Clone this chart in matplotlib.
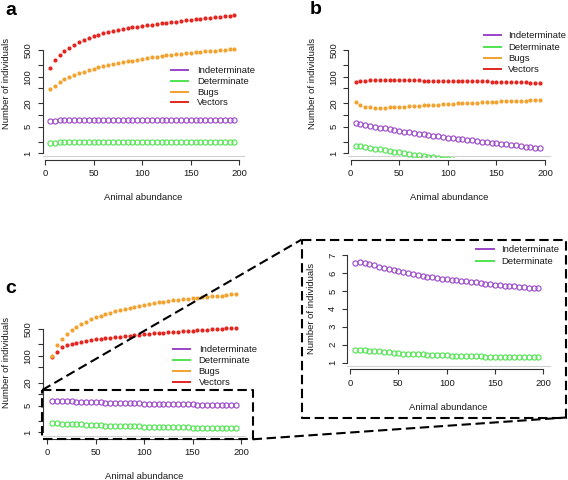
import matplotlib
matplotlib.use("Agg")
import matplotlib.pyplot as plt
from matplotlib.lines import Line2D
from matplotlib.ticker import NullLocator

plt.rcParams['font.family'] = ['Liberation Sans', 'DejaVu Sans']

W, H = 568, 480

# animal abundance (x)
abundance = list(range(5, 200, 5))

# panel a
indet_a = [6.9, 7.1, 7.2, 7.2, 7.2, 7.2, 7.2, 7.2, 7.2, 7.2, 7.2, 7.2, 7.2,
           7.2, 7.2, 7.2, 7.2, 7.2, 7.2, 7.2, 7.2, 7.2, 7.2, 7.2, 7.2, 7.2,
           7.2, 7.2, 7.2, 7.2, 7.2, 7.2, 7.2, 7.2, 7.2, 7.2, 7.2, 7.2, 7.2]
det_a = [1.85, 1.9, 1.93, 1.93, 1.93, 1.93, 1.93, 1.93, 1.93, 1.93, 1.93,
         1.93, 1.93, 1.93, 1.93, 1.93, 1.93, 1.93, 1.93, 1.93, 1.93, 1.93,
         1.93, 1.93, 1.93, 1.93, 1.93, 1.93, 1.93, 1.93, 1.93, 1.93, 1.93,
         1.93, 1.93, 1.93, 1.93, 1.93, 1.93]
bugs_a = [47, 58, 71, 85, 96, 110, 122, 135, 149, 162, 175, 188, 200, 212,
          224, 237, 250, 263, 276, 289, 303, 318, 333, 348, 363, 375, 388,
          400, 413, 426, 436, 447, 457, 468, 478, 492, 506, 521, 537]
vect_a = [166, 269, 370, 468, 574, 674, 794, 910, 1030, 1150, 1250, 1350,
          1440, 1540, 1640, 1740, 1840, 1940, 2040, 2130, 2210, 2300, 2390,
          2470, 2560, 2660, 2760, 2860, 2960, 3060, 3170, 3280, 3390, 3500,
          3620, 3730, 3840, 3960, 4080]

# panel b
indet_b = [6.07, 5.76, 5.47, 5.20, 4.94, 4.69, 4.46, 4.23, 4.02, 3.82, 3.67,
           3.53, 3.39, 3.25, 3.13, 3.00, 2.89, 2.77, 2.66, 2.56, 2.47, 2.39,
           2.31, 2.24, 2.16, 2.09, 2.02, 1.95, 1.89, 1.82, 1.76, 1.71, 1.65,
           1.60, 1.54, 1.49, 1.44, 1.40, 1.35]
det_b = [1.58, 1.51, 1.44, 1.38, 1.32, 1.26, 1.20, 1.15, 1.10, 1.05, 1.00,
         0.96, 0.92, 0.88, 0.84, 0.81, 0.78, 0.75, 0.72, 0.69, 0.66, 0.64,
         0.61, 0.59, 0.57, 0.55, 0.53, 0.51, 0.49, 0.47, 0.45, 0.44, 0.42,
         0.41, 0.39, 0.38, 0.37, 0.35, 0.34]
bugs_b = [22.3, 17.9, 16.5, 15.9, 15.5, 15.5, 15.6, 15.8, 16.0, 16.2, 16.5,
          16.8, 17.1, 17.5, 17.9, 18.2, 18.5, 18.8, 19.1, 19.4, 19.7, 20.0,
          20.3, 20.6, 20.9, 21.2, 21.5, 21.8, 22.0, 22.3, 22.6, 22.9, 23.1,
          23.4, 23.7, 23.9, 24.1, 24.4, 24.6]
vect_b = [74, 77, 79, 80, 80.5, 81, 81, 81, 81, 81, 80.5, 80.5, 80, 80, 79.5,
          79.5, 79, 79, 78.5, 78, 78, 77.5, 77, 77, 76.5, 76, 75.5, 75, 74.5,
          74, 73.5, 73, 72.5, 72, 71.5, 71, 70.5, 70, 69.5]

# panel c (and zoomed inset)
indet_c = [6.57, 6.61, 6.55, 6.50, 6.43, 6.35, 6.28, 6.22, 6.15, 6.09, 6.03,
           5.98, 5.93, 5.88, 5.83, 5.79, 5.75, 5.72, 5.68, 5.65, 5.62, 5.59,
           5.56, 5.53, 5.50, 5.47, 5.44, 5.41, 5.38, 5.35, 5.33, 5.30, 5.28,
           5.25, 5.23, 5.21, 5.19, 5.16, 5.14]
det_c = [1.71, 1.71, 1.69, 1.67, 1.65, 1.63, 1.61, 1.58, 1.55, 1.52, 1.51,
         1.50, 1.49, 1.47, 1.46, 1.45, 1.44, 1.43, 1.42, 1.41, 1.40, 1.39,
         1.38, 1.37, 1.36, 1.36, 1.35, 1.34, 1.34, 1.33, 1.33, 1.32, 1.32,
         1.31, 1.31, 1.31, 1.30, 1.30, 1.30]
bugs_c = [100, 194, 277, 367, 475, 582, 685, 785, 900, 1020, 1130, 1240, 1350,
          1470, 1590, 1700, 1810, 1930, 2040, 2150, 2260, 2380, 2500, 2610,
          2730, 2830, 2930, 3020, 3120, 3220, 3310, 3410, 3500, 3600, 3700,
          3810, 3930, 4050, 4170]
vect_c = [95, 129, 168, 190, 205, 221, 233, 245, 259, 272, 281, 290, 299, 309,
          318, 328, 338, 347, 357, 367, 376, 386, 395, 405, 414, 423, 432, 441,
          450, 458, 467, 477, 486, 496, 505, 516, 526, 537, 548]

labels = ['Indeterminate', 'Determinate', 'Bugs', 'Vectors']
colors = ['#9b45c9', '#4ee44e', '#f2a22e', '#e3261f']

log_ticks = [1, 2, 5, 10, 20, 50, 100, 200, 500]
log_ticklabels = ['1', '', '5', '', '20', '', '100', '', '500']
lin_ticks = [1, 2, 3, 4, 5, 6, 7]
x_ticks = [0, 50, 100, 150, 200]

FS = 6.8
TXT = '#1a1a1a'


def fig_box(left, top, right, bottom):
    return [left / W, 1 - bottom / H, (right - left) / W, (bottom - top) / H]


def fx(x):
    return x / W


def fy(y):
    return 1 - y / H


def make_axes(box, xlim, ylim, log=True):
    ax = fig.add_axes(fig_box(*box))
    if log:
        ax.set_yscale('log')
        ax.set_yticks(log_ticks)
        ax.set_yticklabels(log_ticklabels)
        ax.spines['left'].set_bounds(1, 500)
    else:
        ax.set_yticks(lin_ticks)
        ax.set_yticklabels([str(t) for t in lin_ticks])
        ax.spines['left'].set_bounds(1, 7)
    ax.yaxis.set_minor_locator(NullLocator())
    ax.set_xticks(x_ticks)
    ax.set_xlim(xlim)
    ax.set_ylim(ylim)
    ax.patch.set_visible(False)
    for s in ['top', 'right']:
        ax.spines[s].set_visible(False)
    ax.spines['bottom'].set_position(('outward', 2.2))
    ax.spines['bottom'].set_bounds(0, 200)
    for s in ['bottom', 'left']:
        ax.spines[s].set_color('#333333')
        ax.spines[s].set_linewidth(0.8)
    ax.tick_params(direction='out', length=3.6, width=0.8, color='#333333',
                   labelsize=FS, labelcolor=TXT)
    ax.tick_params(axis='x', pad=3.3)
    ax.tick_params(axis='y', pad=3.6, labelrotation=90)
    for lab in ax.get_yticklabels():
        lab.set_va('center')
    ax.axhline(ylim[0], color='#d2d2d2', lw=0.8, clip_on=False, zorder=0)
    ax.set_xlabel('Animal abundance', fontsize=FS, color=TXT, labelpad=10.8)
    ax.set_ylabel('Number of individuals', fontsize=FS, color=TXT, labelpad=9)
    return ax


def open_pts(ax, y, c):
    ax.plot(abundance, y, 'o', mfc='none', mec=c, ms=3.7, mew=0.8)


def dot_pts(ax, y, c):
    ax.plot(abundance, y, 'o', color=c, ms=3.0, mew=0)


def legend(x0, x1, xt, rows, names, cols):
    for yy, name, col in zip(rows, names, cols):
        fig.add_artist(Line2D([fx(x0), fx(x1)], [fy(yy), fy(yy)], color=col, lw=1.4))
        fig.text(fx(xt), fy(yy + 0.5), name, fontsize=FS, color=TXT, va='center', ha='left')


fig = plt.figure(figsize=(W / 100, H / 100), dpi=100)

# ---- panel a
ax = make_axes((42.5, 10, 244, 156.5), (-2.6, 204.8), (0.825, 5520))
open_pts(ax, indet_a, colors[0])
open_pts(ax, det_a, colors[1])
dot_pts(ax, bugs_a, colors[2])
dot_pts(ax, vect_a, colors[3])
legend(171, 188, 197, [70, 80.7, 91.7, 102.3], labels, colors)

# ---- panel b
ax = make_axes((348.3, 10, 550, 156.5), (-2.5, 205.1), (0.825, 5520))
open_pts(ax, indet_b, colors[0])
open_pts(ax, det_b, colors[1])
dot_pts(ax, bugs_b, colors[2])
dot_pts(ax, vect_b, colors[3])
legend(484, 500.7, 508, [35, 46.7, 57.7, 69], labels, colors)

# ---- panel c
ax = make_axes((42.7, 289, 245, 435.5), (-4.8, 204.2), (0.824, 5640))
open_pts(ax, indet_c, colors[0])
open_pts(ax, det_c, colors[1])
dot_pts(ax, vect_c, colors[3])
dot_pts(ax, bugs_c, colors[2])
legend(172.7, 190, 198.7, [348.7, 360, 371, 382], labels, colors)

# ---- zoomed inset of panel c
ax = make_axes((347.3, 250, 550, 366.3), (-2.8, 206.9), (0.80, 7.28), log=False)
open_pts(ax, indet_c, colors[0])
open_pts(ax, det_c, colors[1])
legend(475.7, 494, 501.3, [249.3, 260.7], labels[:2], colors[:2])

# ---- dashed zoom boxes and connectors
dash = dict(color='black', lw=1.5, linestyle=(0, (4.5, 2.2)))
small = (42.3, 390, 252.7, 439.3)
big = (301.7, 239.5, 566, 417.5)
for l, t, r, b in [small, big]:
    fig.add_artist(Line2D([fx(l), fx(r), fx(r), fx(l), fx(l)],
                          [fy(t), fy(t), fy(b), fy(b), fy(t)], **dash))
fig.add_artist(Line2D([fx(small[0]), fx(big[0])], [fy(small[1]), fy(big[1])], **dash))
fig.add_artist(Line2D([fx(small[2]), fx(big[2])], [fy(small[3]), fy(big[3])], **dash))

# ---- panel letters
for x, y, s in [(5, 15, 'a'), (310, 14.5, 'b'), (5, 293, 'c')]:
    fig.text(fx(x), fy(y), s, fontsize=14, fontweight='bold', va='baseline', ha='left')

fig.savefig('out.png', dpi=100)
